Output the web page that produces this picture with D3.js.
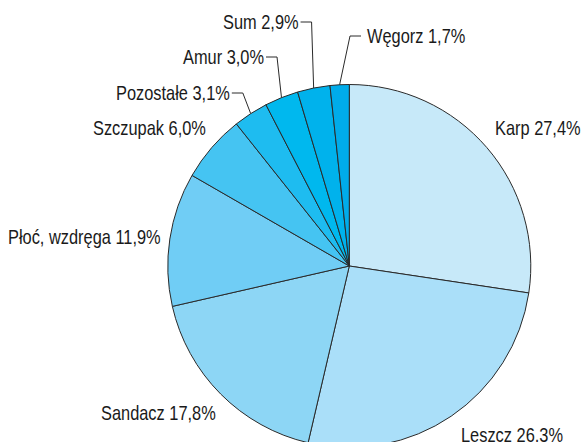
<!DOCTYPE html>
<html>
<head>
<meta charset="utf-8">
<script src="https://cdn.jsdelivr.net/npm/d3@7"></script>
<style>
  body { margin: 0; background: #fff; }
  text { font-family: "Liberation Sans", Arial, sans-serif; font-size: 20px; fill: #1a1a1a; }
</style>
</head>
<body>
<div id="vis"></div>
<script>
// slice data, clockwise from 12 o'clock
const names = ['Karp', 'Leszcz', 'Sandacz', 'Płoć, wzdręga', 'Szczupak', 'Pozostałe', 'Amur', 'Sum', 'Węgorz']
const shares = [27.4, 26.3, 17.8, 11.9, 6.0, 3.1, 3.0, 2.9, 1.7]
const labels = ['27,4%', '26,3%', '17,8%', '11,9%', '6,0%', '3,1%', '3,0%', '2,9%', '1,7%']
const colors = ['#c7e9f9', '#aadff9', '#8dd6f5', '#70cdf5', '#45c4f2', '#1ebcf0', '#00b8ee', '#00b2ec', '#00acea']

// label placement (text left x, baseline y) and whether a leader line is drawn
const labelPos = [
  { x: 495, y: 135 },
  { x: 461, y: 442 },
  { x: 101, y: 420 },
  { x: 8, y: 244 },
  { x: 93, y: 135 },
  { x: 116, y: 100, leader: 'right' },
  { x: 183, y: 64, leader: 'right' },
  { x: 223, y: 29, leader: 'right' },
  { x: 367, y: 43, leader: 'left' }
]

const W = 583, H = 442
const cx = 349.3, cy = 266, radius = 181.5
const narrow = 0.82   // condensed type, emulated with a horizontal squeeze

const data = names.map((n, i) => ({ name: n, value: shares[i], label: labels[i], color: colors[i], pos: labelPos[i] }))

const svg = d3.select('#vis').append('svg')
  .attr('width', W)
  .attr('height', H)

const pie = d3.pie().value(d => d.value).sort(null)
const arc = d3.arc().innerRadius(0).outerRadius(radius)

const g = svg.append('g').attr('transform', `translate(${cx},${cy})`)

g.selectAll('path')
  .data(pie(data))
  .enter()
  .append('path')
  .attr('d', arc)
  .attr('fill', d => d.data.color)
  .attr('stroke', '#2a2a2a')
  .attr('stroke-width', 1)
  .attr('stroke-linejoin', 'round')

// labels
const txt = svg.selectAll('text.lab')
  .data(pie(data))
  .enter()
  .append('text')
  .attr('class', 'lab')
  .attr('transform', d => `translate(${d.data.pos.x},${d.data.pos.y}) scale(${narrow},1)`)
  .text(d => d.data.name + ' ' + d.data.label)

// leader lines for the small slices
txt.each(function (d) {
  if (!d.data.pos.leader) return
  const w = this.getComputedTextLength() * narrow
  const mid = (d.startAngle + d.endAngle) / 2
  const ex = cx + radius * Math.sin(mid)
  const ey = cy - radius * Math.cos(mid)
  const ly = d.data.pos.y - 7
  let x0, x1
  if (d.data.pos.leader === 'right') {
    x0 = d.data.pos.x + w + 2
    x1 = x0 + 11
  } else {
    x0 = d.data.pos.x - 6
    x1 = x0 - 11
  }
  svg.append('path')
    .attr('d', `M${x0},${ly}L${x1},${ly}L${ex},${ey}`)
    .attr('fill', 'none')
    .attr('stroke', '#2a2a2a')
    .attr('stroke-width', 1)
})
</script>
</body>
</html>
